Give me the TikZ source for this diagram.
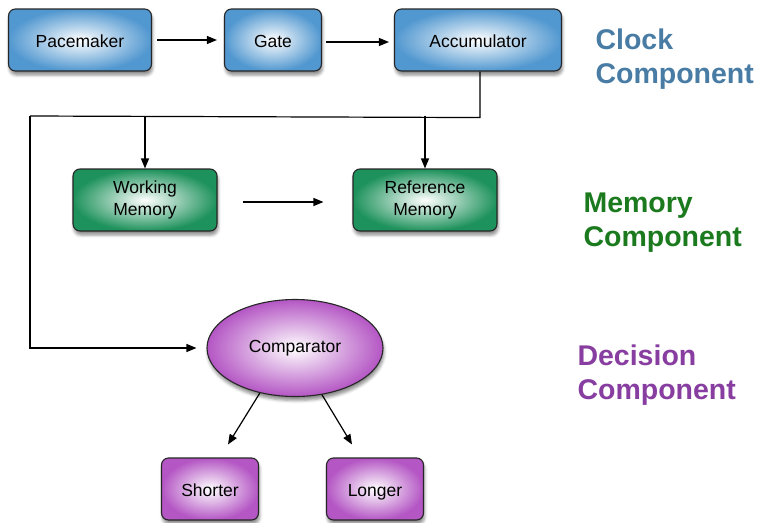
\documentclass[tikz,border=0pt]{standalone}
\usepackage{fontspec}
\setmainfont{Liberation Sans}
\usetikzlibrary{shapes.geometric,shadows.blur,arrows.meta,calc}

\definecolor{clockfill}{RGB}{82,152,208}
\definecolor{memfill}{RGB}{30,146,92}
\definecolor{decfill}{RGB}{180,86,196}
\definecolor{clocktext}{RGB}{72,124,164}
\definecolor{memtext}{RGB}{28,122,30}
\definecolor{dectext}{RGB}{136,62,160}

\tikzset{
  unit/.style={draw=black!85, line width=1.1pt, rounded corners=7pt,
    align=center, font=\fontsize{17.5}{22}\selectfont,
    inner color=white,
    blur shadow={shadow xshift=1pt, shadow yshift=-4pt,
      shadow blur radius=3pt, shadow opacity=45}},
  oneline/.style={text height=16pt, text depth=2pt},
  clockbox/.style={unit, oneline, outer color=clockfill, minimum height=62pt},
  membox/.style={unit, outer color=memfill, minimum width=144pt, minimum height=62pt},
  decbox/.style={unit, oneline, outer color=decfill, minimum width=97pt, minimum height=62pt},
  comparebox/.style={unit, ellipse, rounded corners=0pt, outer color=decfill,
    minimum width=176pt, minimum height=97pt},
  arr/.style={-{Triangle[length=10pt,width=8pt]}, line width=1.2pt, black},
  wire/.style={line width=1.2pt, black},
  grouplabel/.style={font=\fontsize{28.5}{34}\selectfont\bfseries, align=left, anchor=west}
}

\begin{document}
\begin{tikzpicture}[x=1pt,y=-1pt]
  \useasboundingbox (0,0) rectangle (757,522);

  % clock component
  \node[clockbox, minimum width=143pt] (pm)  at (80,40)  {Pacemaker};
  \node[clockbox, minimum width=97pt]  (gate) at (273,40) {Gate};
  \node[clockbox, minimum width=167pt] (acc) at (478,40) {Accumulator};

  % memory component
  \node[membox] (wm) at (145,200) {Working\\Memory};
  \node[membox] (rm) at (425,200) {Reference\\Memory};

  % decision component
  \node[comparebox] (comp) at (295,348) {Comparator};
  \node[decbox] (sh) at (210,489) {Shorter};
  \node[decbox] (lo) at (375,489) {Longer};

  % group labels
  \node[grouplabel, text=clocktext] (lclock) at (592,59) {Clock\\Component};
  \node[grouplabel, text=memtext]   (lmem)   at (580,223) {Memory\\Component};
  \node[grouplabel, text=dectext]   (ldec)   at (574,375) {Decision\\Component};

  % clock chain
  \draw[arr, shorten <=5pt, shorten >=7pt] (pm.east) -- (gate.west);
  \draw[arr, shorten <=4pt, shorten >=5pt] ($(gate.east)+(0,2)$) -- ($(acc.west)+(0,2)$);

  % accumulator output distribution
  \coordinate (split) at ($(acc.south)+(2,46)$);
  \coordinate (corner) at (30,116);
  \draw[wire] (acc.south -| split) -- (split) -- (corner);
  \draw[arr, shorten >=10pt] (corner) |- (comp.west);
  \draw[arr] (wm.north |- corner) -- (wm.north);
  \draw[arr] (rm.north |- corner) -- (rm.north);

  % working memory to reference memory
  \draw[arr, shorten <=25pt, shorten >=29pt] ($(wm.east)+(0,2)$) -- ($(rm.west)+(0,2)$);

  % comparator outcomes
  \draw[arr] (comp.-128) -- ($(sh.north)+(18,-13)$);
  \draw[arr] (comp.-60) -- ($(lo.north)+(-23,-13)$);
\end{tikzpicture}
\end{document}
